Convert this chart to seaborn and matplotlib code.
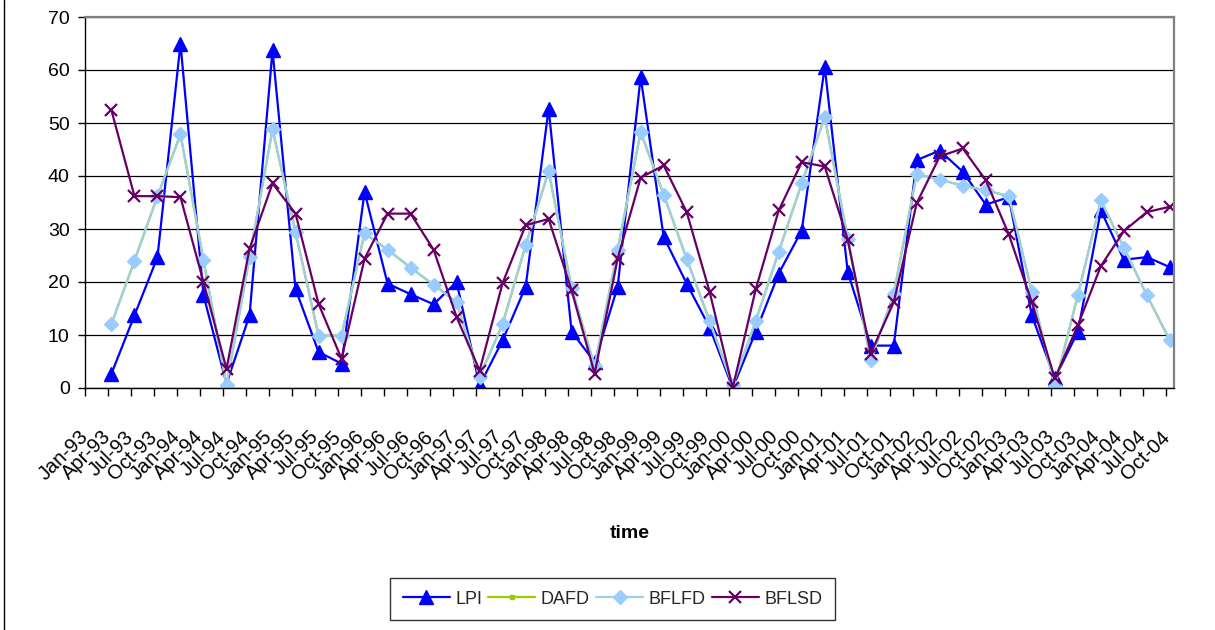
import numpy as np
import pandas as pd
import matplotlib
matplotlib.use("Agg")
import matplotlib.pyplot as plt
import seaborn as sns
from matplotlib.lines import Line2D

# ---------------- data ----------------
months = ["Jan", "Apr", "Jul", "Oct"]
years = ["93", "94", "95", "96", "97", "98", "99", "00", "01", "02", "03", "04"]
tick_labels = [f"{m}-{y}" for y in years for m in months]   # Jan-93 ... Oct-04

# quarterly values from Apr-93 to Oct-04
LPI = [2.7, 13.7, 24.7, 65.0, 17.5, 0.8, 13.7, 63.7, 18.7, 6.8, 4.6, 37.0,
       19.7, 17.7, 15.8, 20.0, 0.5, 9.0, 19.1, 52.7, 10.6, 4.9, 19.1,
       58.7, 28.5, 19.7, 11.4, 0.0, 10.6, 21.6, 29.7, 60.6, 21.9, 8.0, 8.0,
       43.0, 44.8, 40.8, 34.6, 36.0, 13.7, 1.8, 10.6, 33.5, 24.2, 24.7, 22.8]
DAFD = [12.1, 24.0, 36.2, 47.9, 24.1, 0.5, 24.7, 48.8, 29.4, 9.9, 9.9, 29.2,
        26.1, 22.7, 19.5, 16.2, 2.1, 12.1, 26.9, 40.9, 18.9, 4.1, 26.1,
        48.3, 36.5, 24.4, 12.6, 0.5, 12.6, 25.7, 38.6, 51.1, 28.2, 5.2, 17.8,
        40.4, 39.3, 38.2, 37.3, 36.2, 18.2, 0.3, 17.5, 35.4, 26.5, 17.5, 9.0]
BFLFD = [12.1, 24.0, 36.2, 47.9, 24.1, 0.5, 24.7, 48.8, 29.4, 9.9, 9.9, 29.2,
         26.1, 22.7, 19.5, 16.2, 2.1, 12.1, 26.9, 40.9, 18.9, 4.1, 26.1,
         48.3, 36.5, 24.4, 12.6, 0.5, 12.6, 25.7, 38.6, 51.1, 28.2, 5.2, 17.8,
         40.4, 39.3, 38.2, 37.3, 36.2, 18.2, 0.3, 17.5, 35.4, 26.5, 17.5, 9.0]
BFLSD = [52.4, 36.2, 36.2, 36.0, 20.0, 3.6, 26.3, 38.6, 32.9, 15.9, 5.5, 24.4,
         32.9, 32.9, 26.1, 13.4, 3.3, 19.8, 30.7, 31.9, 18.4, 2.7, 24.4,
         39.7, 42.0, 33.2, 18.1, 0.0, 18.6, 33.5, 42.6, 41.8, 28.0, 6.5, 16.2,
         34.9, 43.7, 45.2, 39.2, 29.0, 16.2, 1.8, 11.8, 23.0, 29.6, 33.2, 34.2]

# ---------------- style ----------------
sns.set_theme(style="white")
plt.rcParams["font.family"] = ["Liberation Sans", "DejaVu Sans"]

W, H = 1215, 630
fig = plt.figure(figsize=(W / 100, H / 100), dpi=100)
ax = fig.add_axes([85 / W, 1 - 388 / H, (1174 - 85) / W, (388 - 17) / H])

# points sit just right of their quarter tick (date axis)
xpos = np.arange(1, len(LPI) + 1) + 0.15
df = pd.DataFrame({"x": xpos, "LPI": LPI, "DAFD": DAFD, "BFLFD": BFLFD, "BFLSD": BFLSD})

styles = {
    "LPI":   dict(color="#0000FF", marker="^", markersize=9.5, mfc="#0000FF", mec="#0000FF", mew=1),
    "DAFD":  dict(color="#99CC00", marker="s", markersize=3, mfc="#99CC00", mec="#99CC00", mew=1),
    "BFLFD": dict(color="#9FCFE4", marker="D", markersize=7, mfc="#99CCFF", mec="#99CCFF", mew=1),
    "BFLSD": dict(color="#660066", marker="x", markersize=9, mfc="#660066", mec="#660066", mew=1.6),
}
for name, st in styles.items():
    sns.lineplot(data=df, x="x", y=name, ax=ax, label=name, linewidth=1.6,
                 estimator=None, sort=False, **st)

ax.set_xlim(0, 47.33)
ax.set_ylim(0, 70)
ax.set_xticks(np.arange(len(tick_labels)))
ax.set_xticklabels(tick_labels, rotation=45, ha="right", va="center",
                   rotation_mode="anchor", fontsize=14.5)
ax.set_yticks(np.arange(0, 71, 10))
ax.set_yticklabels([str(v) for v in range(0, 71, 10)], fontsize=14)
ax.tick_params(axis="x", bottom=True, direction="out", length=6, width=1,
               color="black", pad=27, labelcolor="black")
ax.tick_params(axis="y", left=True, direction="out", length=5, width=1,
               color="black", pad=6, labelcolor="black")

ax.set_ylabel("")
ax.set_xlabel("time", fontsize=14, fontweight="bold", color="black")
ax.xaxis.set_label_coords(0.5, -0.37)

ax.yaxis.grid(True, color="black", linewidth=0.9)
ax.xaxis.grid(False)
ax.set_axisbelow(True)
for s in ["left", "bottom"]:
    ax.spines[s].set_color("black")
    ax.spines[s].set_linewidth(1)
for s in ["top", "right"]:
    ax.spines[s].set_color("#808080")
    ax.spines[s].set_linewidth(1.6)

handles, labels = ax.get_legend_handles_labels()
if ax.get_legend() is not None:
    ax.get_legend().remove()
leg = fig.legend(handles, labels, loc="center", bbox_to_anchor=(612.5 / W, 1 - 599 / H),
                 ncol=4, frameon=True, fancybox=False, shadow=False, fontsize=13,
                 handlelength=2.6, handletextpad=0.3, columnspacing=0.35,
                 borderpad=0.7, borderaxespad=0)
leg.get_frame().set_edgecolor("black")
leg.get_frame().set_linewidth(1)
leg.get_frame().set_facecolor("white")

# outer chart-area border (left edge visible in the reference)
fig.add_artist(Line2D([4 / W, 4 / W], [0, 1], transform=fig.transFigure,
                      color="black", linewidth=1))

fig.savefig("out.png", dpi=100)
